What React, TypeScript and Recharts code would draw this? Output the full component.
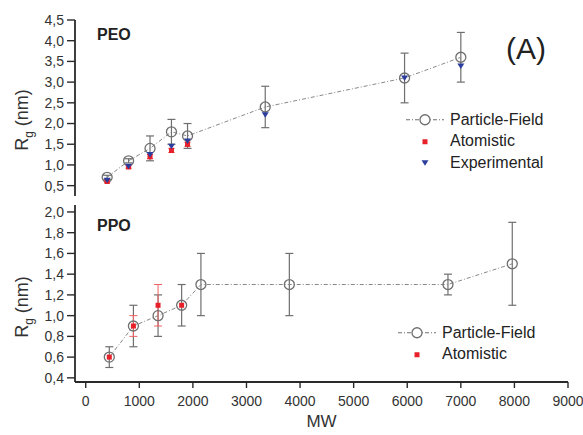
import React from 'react';
import { ComposedChart, Scatter, XAxis, YAxis, ErrorBar, Legend } from 'recharts';

// ---- data ----
const MW_TICKS = [0, 1000, 2000, 3000, 4000, 5000, 6000, 7000, 8000, 9000];
const PEO_TICKS = [0.5, 1.0, 1.5, 2.0, 2.5, 3.0, 3.5, 4.0, 4.5];
const PPO_TICKS = [0.4, 0.6, 0.8, 1.0, 1.2, 1.4, 1.6, 1.8, 2.0];

const peoPfMw = [400, 800, 1200, 1600, 1900, 3350, 5950, 7000];
const peoPfRg = [0.7, 1.1, 1.4, 1.8, 1.7, 2.4, 3.1, 3.6];
const peoPfErr = [0.05, 0.05, 0.3, 0.3, 0.3, 0.5, 0.6, 0.6];

const peoAtMw = [400, 800, 1200, 1600, 1900];
const peoAtRg = [0.6, 0.95, 1.2, 1.35, 1.5];
const peoAtErr = [0.03, 0.03, 0.05, 0.05, 0.05];

const peoExpMw = [400, 800, 1200, 1600, 1900, 3350, 5950, 7000];
const peoExpRg = [0.63, 0.97, 1.25, 1.45, 1.58, 2.21, 3.1, 3.39];

const ppoPfMw = [440, 890, 1350, 1790, 2150, 3800, 6760, 7960];
const ppoPfRg = [0.6, 0.9, 1.0, 1.1, 1.3, 1.3, 1.3, 1.5];
const ppoPfErr = [0.1, 0.2, 0.2, 0.2, 0.3, 0.3, 0.1, 0.4];

const ppoAtMw = [440, 890, 1350, 1790];
const ppoAtRg = [0.6, 0.9, 1.1, 1.1];
const ppoAtErr = [0, 0.1, 0.2, 0];

const SERIES_PF = 'Particle-Field';
const SERIES_AT = 'Atomistic';
const SERIES_EXP = 'Experimental';

// ---- helpers ----
const zip = (mw: number[], rg: number[], err?: number[]) =>
  mw.map((x, i) => ({ mw: x, rg: rg[i], err: err ? err[i] : 0 }));

const FONT = '"Liberation Sans", Arial, Helvetica, sans-serif';
const fmt = (v: number) => v.toFixed(1).replace('.', ',');
const FRAME = { stroke: '#2a2a2a', strokeWidth: 1.8 };
const TICKLINE = { stroke: '#2a2a2a', strokeWidth: 1.4 };
const TICKTEXT = { fontSize: 14, fill: '#333', fontFamily: FONT };
const GRAY = '#6f6f6f';
const RED = '#e8202a';
const BLUE = '#2b3e9e';
const PF_DASH = '4 2 1 2';

const OpenCircle = (p: any) => (
  <circle cx={p.cx} cy={p.cy} r={5} fill="none" stroke={GRAY} strokeWidth={1.3} />
);
const RedSquare = (p: any) => (
  <rect x={p.cx - 2.5} y={p.cy - 2.5} width={5} height={5} fill={RED} />
);
const BlueTri = (p: any) => (
  <path d={`M${p.cx - 3.5},${p.cy - 2.5} L${p.cx + 3.5},${p.cy - 2.5} L${p.cx},${p.cy + 3} Z`} fill={BLUE} />
);

const RgLabel = ({ cy }: { cy: number }) => (
  <text
    x={28}
    y={cy}
    transform={`rotate(-90 28 ${cy})`}
    textAnchor="middle"
    fontFamily={FONT}
    fontSize={18}
    fill="#333"
  >
    R<tspan dy={5} fontSize={12}>g</tspan>
    <tspan dy={-5}> (nm)</tspan>
  </text>
);

const MwLabel = (props: any) => {
  const vb = props.viewBox || {};
  return (
    <text x={vb.x + vb.width / 2} y={vb.y + 45} textAnchor="middle" fontFamily={FONT} fontSize={17} fill="#333">
      MW
    </text>
  );
};

const LegendRow = ({ icon, label }: { icon: React.ReactNode; label: string }) => (
  <div style={{ display: 'flex', alignItems: 'center', height: 21.5 }}>
    <svg width={42} height={21.5} style={{ flex: 'none', display: 'block' }}>
      {icon}
    </svg>
    <span style={{ marginLeft: 4, fontSize: 16, color: '#222', fontFamily: FONT, whiteSpace: 'nowrap' }}>{label}</span>
  </div>
);

const pfIcon = (
  <g>
    <line x1={2} y1={10.75} x2={40} y2={10.75} stroke={GRAY} strokeWidth={1} strokeDasharray={PF_DASH} />
    <circle cx={21} cy={10.75} r={5} fill="white" stroke={GRAY} strokeWidth={1.3} />
  </g>
);
const atIcon = <rect x={18.5} y={8.25} width={5} height={5} fill={RED} />;
const expIcon = <path d="M17.5,8.25 L24.5,8.25 L21,13.75 Z" fill={BLUE} />;

const TopLegend = () => (
  <div>
    <LegendRow icon={pfIcon} label={SERIES_PF} />
    <LegendRow icon={atIcon} label={SERIES_AT} />
    <LegendRow icon={expIcon} label={SERIES_EXP} />
  </div>
);
const BottomLegend = () => (
  <div>
    <LegendRow icon={pfIcon} label={SERIES_PF} />
    <LegendRow icon={atIcon} label={SERIES_AT} />
  </div>
);

export default function App() {
  return (
    <div style={{ position: 'fixed', left: 0, top: 0, width: 583, height: 435, background: '#fff' }}>
      {/* PEO panel */}
      <div style={{ position: 'absolute', left: 0, top: 0 }}>
        <ComposedChart width={583} height={200} margin={{ top: 20, right: 15, bottom: 4, left: 0 }}>
          <XAxis
            xAxisId="b"
            dataKey="mw"
            type="number"
            domain={[-200, 9000]}
            ticks={MW_TICKS}
            interval={0}
            allowDataOverflow
            height={0}
            tick={false}
            tickSize={-6}
            axisLine={FRAME}
            tickLine={TICKLINE}
          />
          <XAxis
            xAxisId="t"
            orientation="top"
            type="number"
            domain={[-200, 9000]}
            ticks={MW_TICKS}
            interval={0}
            allowDataOverflow
            height={0}
            tick={false}
            tickSize={-6}
            axisLine={FRAME}
            tickLine={TICKLINE}
          />
          <YAxis
            yAxisId="l"
            dataKey="rg"
            type="number"
            domain={[0.25, 4.5]}
            ticks={PEO_TICKS}
            interval={0}
            allowDataOverflow
            width={75}
            tickSize={8}
            tickMargin={3}
            tickFormatter={fmt}
            tick={TICKTEXT}
            axisLine={FRAME}
            tickLine={TICKLINE}
            label={<RgLabel cy={120} />}
          />
          <YAxis
            yAxisId="r"
            orientation="right"
            type="number"
            domain={[0.25, 4.5]}
            ticks={PEO_TICKS}
            interval={0}
            allowDataOverflow
            width={0}
            tick={false}
            tickSize={-6}
            axisLine={FRAME}
            tickLine={TICKLINE}
          />
          <Scatter
            name={SERIES_PF}
            xAxisId="b"
            yAxisId="l"
            data={zip(peoPfMw, peoPfRg, peoPfErr)}
            shape={OpenCircle}
            line={{ stroke: '#888', strokeWidth: 1, strokeDasharray: PF_DASH }}
            isAnimationActive={false}
          >
            <ErrorBar dataKey="err" direction="y" width={4} stroke={GRAY} strokeWidth={1.2} />
          </Scatter>
          <Scatter
            name={SERIES_AT}
            xAxisId="b"
            yAxisId="l"
            data={zip(peoAtMw, peoAtRg, peoAtErr)}
            shape={RedSquare}
            isAnimationActive={false}
          >
            <ErrorBar dataKey="err" direction="y" width={3} stroke={RED} strokeWidth={1} />
          </Scatter>
          <Scatter
            name={SERIES_EXP}
            xAxisId="b"
            yAxisId="l"
            data={zip(peoExpMw, peoExpRg)}
            shape={BlueTri}
            isAnimationActive={false}
          />
          <Legend
            layout="horizontal"
            verticalAlign="middle"
            align="center"
            content={() => <TopLegend />}
            wrapperStyle={{ left: 404, top: 109, width: 170 }}
          />
          <text x={97} y={40} fontFamily={FONT} fontSize={16} fontWeight="bold" fill="#222">
            PEO
          </text>
          <text x={506} y={59} fontFamily={FONT} fontSize={30} fill="#222">
            (A)
          </text>
        </ComposedChart>
      </div>

      {/* PPO panel */}
      <div style={{ position: 'absolute', left: 0, top: 200 }}>
        <ComposedChart width={583} height={235} margin={{ top: 5, right: 15, bottom: 0, left: 0 }}>
          <XAxis
            xAxisId="b"
            dataKey="mw"
            type="number"
            domain={[-200, 9000]}
            ticks={MW_TICKS}
            interval={0}
            allowDataOverflow
            height={53}
            tickSize={6}
            tickMargin={8}
            tick={TICKTEXT}
            axisLine={FRAME}
            tickLine={TICKLINE}
            label={<MwLabel />}
          />
          <XAxis
            xAxisId="t"
            orientation="top"
            type="number"
            domain={[-200, 9000]}
            ticks={MW_TICKS}
            interval={0}
            allowDataOverflow
            height={0}
            tick={false}
            tickSize={-6}
            axisLine={FRAME}
            tickLine={TICKLINE}
          />
          <YAxis
            yAxisId="l"
            dataKey="rg"
            type="number"
            domain={[0.36, 2.067]}
            ticks={PPO_TICKS}
            interval={0}
            allowDataOverflow
            width={75}
            tickSize={8}
            tickMargin={3}
            tickFormatter={fmt}
            tick={TICKTEXT}
            axisLine={FRAME}
            tickLine={TICKLINE}
            label={<RgLabel cy={107} />}
          />
          <YAxis
            yAxisId="r"
            orientation="right"
            type="number"
            domain={[0.36, 2.067]}
            ticks={PPO_TICKS}
            interval={0}
            allowDataOverflow
            width={0}
            tick={false}
            tickSize={-6}
            axisLine={FRAME}
            tickLine={TICKLINE}
          />
          <Scatter
            name={SERIES_PF}
            xAxisId="b"
            yAxisId="l"
            data={zip(ppoPfMw, ppoPfRg, ppoPfErr)}
            shape={OpenCircle}
            line={{ stroke: '#888', strokeWidth: 1, strokeDasharray: PF_DASH }}
            isAnimationActive={false}
          >
            <ErrorBar dataKey="err" direction="y" width={4} stroke={GRAY} strokeWidth={1.2} />
          </Scatter>
          <Scatter
            name={SERIES_AT}
            xAxisId="b"
            yAxisId="l"
            data={zip(ppoAtMw, ppoAtRg, ppoAtErr)}
            shape={RedSquare}
            isAnimationActive={false}
          >
            <ErrorBar dataKey="err" direction="y" width={4} stroke="#f06060" strokeWidth={1} />
          </Scatter>
          <Legend
            layout="horizontal"
            verticalAlign="middle"
            align="center"
            content={() => <BottomLegend />}
            wrapperStyle={{ left: 396, top: 122, width: 180 }}
          />
          <text x={97} y={31} fontFamily={FONT} fontSize={16} fontWeight="bold" fill="#222">
            PPO
          </text>
        </ComposedChart>
      </div>
    </div>
  );
}
